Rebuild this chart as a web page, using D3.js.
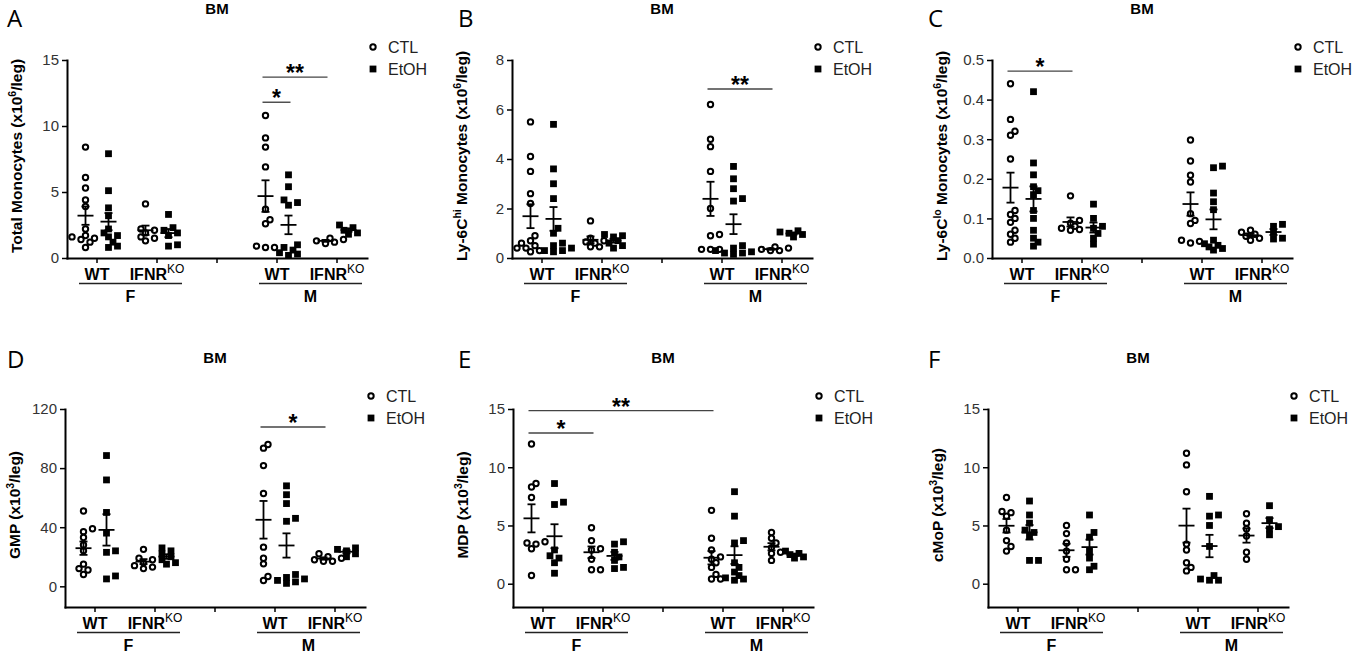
<!DOCTYPE html>
<html>
<head>
<meta charset="utf-8">
<script src="https://cdn.jsdelivr.net/npm/d3@7"></script>
<style>
  body { margin: 0; background: #fff; }
  text { font-family: Arial, "Liberation Sans", sans-serif; }
</style>
</head>
<body>
<div id="fig"></div>
<script>
// column order in every panel: F-WT, F-KO, M-WT, M-KO, each CTL then EtOH
const sexes = ["F", "M"];
const genotypes = ["WT", "IFNR"];
const treatments = ["CTL", "EtOH"];

const totalMono = [
  [8.4, 6.1, 5.3, 4.4, 3.9, 2.2, 1.7, 1.6, 1.5, 1.4, 1.2, 0.8],
  [7.9, 5.1, 3.8, 3.2, 2.2, 1.9, 1.7, 1.6, 1.2, 0.9, 0.8],
  [4.1, 2.2, 2.1, 1.9, 1.6, 1.5, 1.3],
  [3.3, 2.3, 2.1, 1.9, 1.7, 1.0, 0.9],
  [10.8, 9.1, 8.4, 6.9, 3.7, 2.9, 2.6, 0.9, 0.8, 0.8],
  [6.3, 5.4, 4.4, 4.2, 4.0, 1.0, 0.8, 0.6, 0.4, 0.3, 0.2],
  [1.5, 1.4, 1.3, 1.2, 1.1],
  [2.5, 2.3, 2.1, 1.9, 1.8]
];
const ly6cHi = [
  [5.5, 4.1, 3.5, 2.6, 2.2, 0.9, 0.7, 0.6, 0.5, 0.4, 0.4, 0.3, 0.25],
  [5.4, 3.6, 3.0, 2.4, 1.2, 1.0, 0.6, 0.5, 0.4, 0.3, 0.3, 0.25],
  [1.5, 0.8, 0.7, 0.65, 0.6, 0.45, 0.45],
  [0.95, 0.9, 0.85, 0.7, 0.6, 0.5, 0.4],
  [6.2, 4.8, 4.5, 3.5, 2.0, 0.95, 0.9, 0.35, 0.35, 0.35],
  [3.7, 3.2, 2.8, 2.4, 2.3, 0.5, 0.4, 0.3, 0.25, 0.2, 0.2, 0.15],
  [0.45, 0.4, 0.35, 0.3, 0.3],
  [1.1, 1.05, 1.0, 0.95, 0.85]
];
const ly6cLo = [
  [0.44, 0.35, 0.32, 0.31, 0.25, 0.12, 0.11, 0.1, 0.09, 0.07, 0.06, 0.05, 0.04],
  [0.42, 0.24, 0.21, 0.18, 0.17, 0.16, 0.12, 0.1, 0.07, 0.05, 0.04, 0.03],
  [0.157, 0.095, 0.088, 0.08, 0.075, 0.072, 0.07],
  [0.136, 0.1, 0.08, 0.075, 0.062, 0.05, 0.035],
  [0.298, 0.245, 0.209, 0.192, 0.112, 0.095, 0.087, 0.045, 0.042, 0.038],
  [0.232, 0.228, 0.164, 0.142, 0.122, 0.045, 0.036, 0.032, 0.028, 0.024, 0.02],
  [0.07, 0.065, 0.06, 0.055, 0.05, 0.045],
  [0.085, 0.08, 0.065, 0.05, 0.048]
];
const gmp = [
  [51, 39, 37, 33, 28, 24, 15, 12, 11, 8],
  [88.5, 72, 50, 36, 24, 23, 7, 5],
  [25, 19, 18, 16, 14, 13, 12],
  [26, 24, 22, 20, 18, 16, 15],
  [96, 93.5, 81.7, 62.8, 26.5, 19, 15.2, 6.6, 3.9],
  [68, 62, 56, 46, 44, 8, 6, 5, 4, 3, 2],
  [22, 20, 19, 18, 17, 17],
  [26, 25, 24, 22, 20]
];
const mdp = [
  [12, 8.6, 8.3, 7.4, 3.6, 3.5, 3.4, 3.0, 0.7],
  [8.6, 7.0, 6.8, 2.9, 2.4, 2.2, 1.8, 0.9],
  [4.8, 3.7, 3.0, 2.9, 2.1, 1.2, 1.2],
  [3.6, 3.4, 2.7, 2.3, 2.0, 1.4, 1.3],
  [6.3, 3.9, 2.9, 2.3, 2.1, 1.8, 1.4, 0.8, 0.4, 0.4],
  [7.9, 5.8, 3.7, 3.5, 1.8, 1.4, 1.0, 0.7, 0.5, 0.4, 0.3],
  [4.4, 3.9, 3.5, 3.1, 2.7, 2.6, 2.0],
  [2.8, 2.6, 2.5, 2.3, 2.2]
];
const cmop = [
  [7.4, 6.2, 6.1, 5.8, 4.6, 3.7, 3.2, 2.8],
  [7.1, 5.9, 5.2, 4.6, 4.4, 4.1, 2.0, 2.0],
  [5.0, 4.3, 3.5, 2.8, 2.1, 1.2, 1.2],
  [5.9, 4.4, 4.0, 2.8, 2.2, 1.5, 1.2],
  [11.2, 10.2, 7.9, 3.4, 2.9, 1.8, 1.4, 1.1],
  [7.5, 5.9, 5.8, 5.0, 3.2, 0.7, 0.4, 0.3, 0.3],
  [6.0, 5.2, 4.7, 4.1, 2.7, 2.1],
  [6.7, 5.5, 4.9, 4.7, 4.2]
];

// significance brackets: column from, column to, height (data units), label
const sigA = [{from: 4, to: 6, y: 13.7, label: "**"}, {from: 4, to: 5, y: 11.8, label: "*"}];
const sigB = [{from: 4, to: 6, y: 6.83, label: "**"}];
const sigC = [{from: 0, to: 2, y: 0.472, label: "*"}];
const sigD = [{from: 4, to: 6, y: 107.8, label: "*"}];
const sigE = [{from: 0, to: 4, y: 14.86, label: "**"}, {from: 0, to: 2, y: 12.94, label: "*"}];
const sigF = [];

// y titles: every second piece is a superscript
const labelA = ["Total Monocytes (x10", "6", "/leg)"];
const labelB = ["Ly-6C", "hi", " Monocytes (x10", "6", "/leg)"];
const labelC = ["Ly-6C", "lo", " Monocytes (x10", "6", "/leg)"];
const labelD = ["GMP (x10", "3", "/leg)"];
const labelE = ["MDP (x10", "3", "/leg)"];
const labelF = ["cMoP (x10", "3", "/leg)"];

const panels = [
  {letter: "A", data: totalMono, label: labelA, sig: sigA, domain: [0, 15], ticks: [0, 5, 10, 15], fmt: d3.format("d"), x0: 67, top: 60, lx: 7, ly: 27},
  {letter: "B", data: ly6cHi, label: labelB, sig: sigB, domain: [0, 8], ticks: [0, 2, 4, 6, 8], fmt: d3.format("d"), x0: 512, top: 60, lx: 458, ly: 27},
  {letter: "C", data: ly6cLo, label: labelC, sig: sigC, domain: [0, 0.5], ticks: [0, 0.1, 0.2, 0.3, 0.4, 0.5], fmt: d3.format(".1f"), x0: 992, top: 60, lx: 928, ly: 27},
  {letter: "D", data: gmp, label: labelD, sig: sigD, domain: [-14, 120], ticks: [0, 40, 80, 120], fmt: d3.format("d"), x0: 65, top: 409, lx: 7, ly: 368},
  {letter: "E", data: mdp, label: labelE, sig: sigE, domain: [-2, 15], ticks: [0, 5, 10, 15], fmt: d3.format("d"), x0: 513, top: 409, lx: 458, ly: 368},
  {letter: "F", data: cmop, label: labelF, sig: sigF, domain: [-2, 15], ticks: [0, 5, 10, 15], fmt: d3.format("d"), x0: 988, top: 409, lx: 928, ly: 368}
];

const W = 1355, H = 654;
const plotW = 300, plotH = 198;
const pairOff = 11.5, r = 2.7, sq = 6.8;

const svg = d3.select("#fig").append("svg")
  .attr("width", W)
  .attr("height", H);

// simple dodge so overlapping symbols sit side by side (they may still touch)
function dodge(vals, y, step, minDist) {
  const order = d3.sort(d3.range(vals.length), i => vals[i]);
  const placed = [];
  const off = [];
  for (const i of order) {
    const py = y(vals[i]);
    for (let k = 0; k < 20; k++) {
      const dx = k === 0 ? 0 : (k % 2 ? 1 : -1) * Math.ceil(k / 2) * step;
      const hit = placed.some(q => Math.hypot(q.dx - dx, q.py - py) < minDist);
      if (!hit) { off[i] = dx; placed.push({dx, py}); break; }
    }
  }
  return off;
}

function drawPanel(p) {
  const g = svg.append("g");
  const bottom = p.top + plotH;

  const x = d3.scaleBand().domain(d3.range(5)).range([p.x0, p.x0 + plotW]);
  const y = d3.scaleLinear().domain(p.domain).range([bottom, p.top]);

  const colBand = i => (i >> 2) * 3 + ((i >> 1) & 1);
  const colX = i => x(colBand(i)) + x.bandwidth() / 2 + (i % 2 ? pairOff : -pairOff);

  // letter + title
  g.append("text").attr("x", p.lx).attr("y", p.ly)
    .style("font-family", "'Open Sans', sans-serif")
    .attr("font-size", 24).text(p.letter);
  g.append("text").attr("x", p.x0 + plotW / 2).attr("y", p.top - 46)
    .attr("text-anchor", "middle").attr("font-size", 15).attr("font-weight", "bold")
    .text("BM");

  // axes
  const ya = g.append("g").attr("transform", `translate(${p.x0},0)`)
    .call(d3.axisLeft(y).tickValues(p.ticks).tickFormat(p.fmt).tickSize(5).tickSizeOuter(0));
  ya.selectAll("text").attr("font-size", 15).attr("fill", "#333").attr("x", -8)
    .style("font-family", "Arial, 'Liberation Sans', sans-serif");
  ya.select(".domain").attr("stroke-width", 2).attr("stroke-linecap", "square");
  ya.selectAll(".tick line").attr("stroke-width", 1.5);

  const xa = g.append("g").attr("transform", `translate(0,${bottom})`)
    .call(d3.axisBottom(x).tickFormat("").tickSize(5).tickSizeOuter(0));
  xa.select(".domain").attr("stroke-width", 2).attr("stroke-linecap", "square");
  xa.selectAll(".tick line").attr("stroke-width", 1.5);

  // y title
  const ty = g.append("text")
    .attr("transform", `translate(${p.x0 - 45},${p.top + plotH / 2 - 3}) rotate(-90)`)
    .attr("text-anchor", "middle").attr("font-size", 15.5).attr("font-weight", "bold");
  p.label.forEach((t, k) => {
    const s = ty.append("tspan").text(t);
    if (k % 2) s.attr("font-size", 10.5).attr("dy", -6);
    else if (k > 0) s.attr("dy", 6);
  });

  // genotype labels and sex brackets
  [0, 1].forEach(s => {
    [0, 1].forEach(gi => {
      const cx = x(s * 3 + gi) + x.bandwidth() / 2;
      const t = g.append("text").attr("x", cx).attr("y", bottom + 22)
        .attr("text-anchor", "middle").attr("font-size", 16).attr("font-weight", "bold");
      t.append("tspan").text(genotypes[gi]);
      if (gi === 1) t.append("tspan").text("KO").attr("font-size", 12)
        .attr("font-weight", "normal").attr("dy", -7);
    });
    const xl = x(s * 3) + 12, xr = x(s * 3 + 1) + x.bandwidth() - 5;
    g.append("line").attr("x1", xl).attr("x2", xr)
      .attr("y1", bottom + 25.5).attr("y2", bottom + 25.5)
      .attr("stroke", "#222").attr("stroke-width", 1.3);
    g.append("text").attr("x", (xl + xr) / 2).attr("y", bottom + 44)
      .attr("text-anchor", "middle").attr("font-size", 16).attr("font-weight", "bold")
      .text(sexes[s]);
  });

  // points
  p.data.forEach((vals, i) => {
    const cx = colX(i);
    const off = dodge(vals, y, 4.5, 5.5);
    const pts = g.append("g");
    if (i % 2 === 0) {
      pts.selectAll("circle").data(vals).join("circle")
        .attr("cx", (d, k) => cx + off[k]).attr("cy", d => y(d)).attr("r", r)
        .attr("fill", "#fff").attr("stroke", "#000").attr("stroke-width", 2);
    } else {
      pts.selectAll("rect").data(vals).join("rect")
        .attr("x", (d, k) => cx + off[k] - sq / 2).attr("y", d => y(d) - sq / 2)
        .attr("width", sq).attr("height", sq).attr("fill", "#000");
    }
    // mean +/- SEM
    const m = d3.mean(vals);
    const se = d3.deviation(vals) / Math.sqrt(vals.length);
    const eg = g.append("g").attr("stroke", "#000").attr("stroke-width", 1.8);
    eg.append("line").attr("x1", cx - 8).attr("x2", cx + 8).attr("y1", y(m)).attr("y2", y(m));
    eg.append("line").attr("x1", cx).attr("x2", cx).attr("y1", y(m - se)).attr("y2", y(m + se));
    [m - se, m + se].forEach(v => {
      eg.append("line").attr("x1", cx - 4).attr("x2", cx + 4).attr("y1", y(v)).attr("y2", y(v));
    });
  });

  // significance
  p.sig.forEach(s => {
    const x1 = colX(s.from) - 3, x2 = colX(s.to) + 2;
    g.append("line").attr("x1", x1).attr("x2", x2).attr("y1", y(s.y)).attr("y2", y(s.y))
      .attr("stroke", "#444").attr("stroke-width", 1.4);
    g.append("text").attr("x", (x1 + x2) / 2).attr("y", y(s.y) + 4)
      .attr("text-anchor", "middle").attr("font-size", 23).attr("font-weight", "bold")
      .text(s.label);
  });

  // legend
  const lx = p.x0 + plotW + 6;
  g.append("circle").attr("cx", lx).attr("cy", p.top - 13).attr("r", r)
    .attr("fill", "#fff").attr("stroke", "#000").attr("stroke-width", 2);
  g.append("rect").attr("x", lx - sq / 2).attr("y", p.top + 9 - sq / 2)
    .attr("width", sq).attr("height", sq).attr("fill", "#000");
  g.append("text").attr("x", lx + 15).attr("y", p.top - 13 + 5.5).attr("font-size", 16)
    .attr("fill", "#222").text(treatments[0]);
  g.append("text").attr("x", lx + 15).attr("y", p.top + 9 + 5.5).attr("font-size", 16)
    .attr("fill", "#222").text(treatments[1]);
}

panels.forEach(drawPanel);
</script>
</body>
</html>
